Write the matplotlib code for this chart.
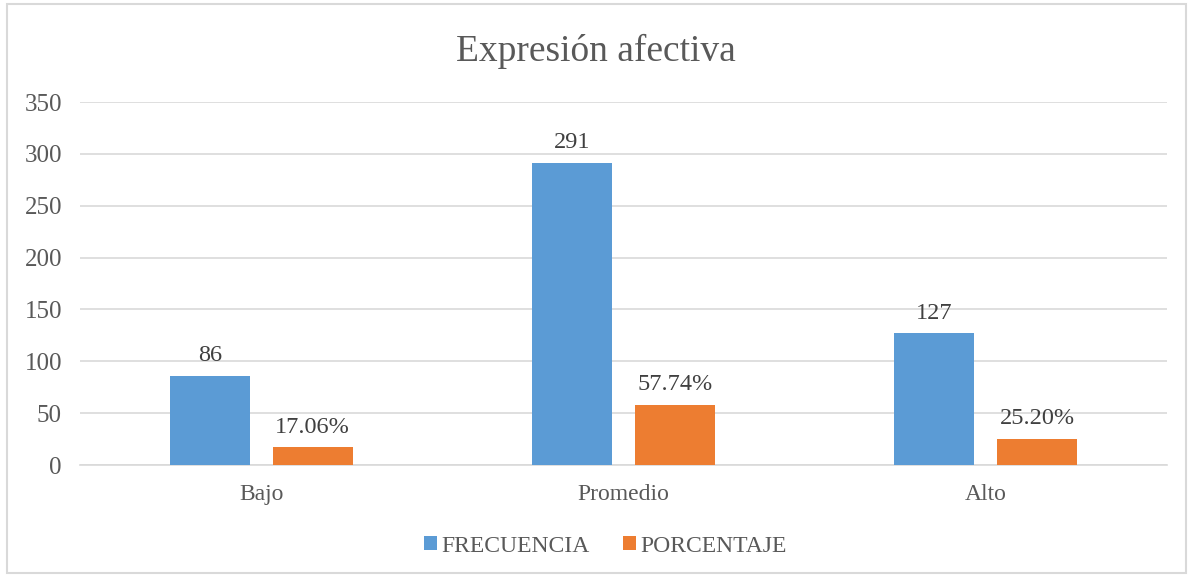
import numpy as np
import matplotlib
matplotlib.use("Agg")
import matplotlib.pyplot as plt
from matplotlib.patches import Rectangle

categories = ["Bajo", "Promedio", "Alto"]
frecuencia = [86, 291, 127]
porcentaje = [17.06, 57.74, 25.20]
pct_labels = ["17.06%", "57.74%", "25.20%"]

BLUE = "#5b9bd5"
ORANGE = "#ed7d31"
TXT = "#595959"
GRID = "#d9d9d9"

plt.rcParams["font.family"] = ["Liberation Serif", "DejaVu Serif"]

fig = plt.figure(figsize=(11.92, 5.76), dpi=100)
ax = fig.add_axes([0.0671, 0.1927, 0.9119, 0.6302])

x = np.arange(len(categories))
w = 0.221
off = 0.142
b1 = ax.bar(x - off, frecuencia, w, color=BLUE, label="FRECUENCIA", zorder=3)
b2 = ax.bar(x + off, porcentaje, w, color=ORANGE, label="PORCENTAJE", zorder=3)

for rect, v in zip(b1, frecuencia):
    ax.annotate(str(v), (rect.get_x() + rect.get_width() / 2, v), xytext=(0, 7),
                textcoords="offset points", ha="center", va="bottom", fontsize=17.5, color="#404040")
for rect, v, s in zip(b2, porcentaje, pct_labels):
    ax.annotate(s, (rect.get_x() + rect.get_width() / 2, v), xytext=(0, 7),
                textcoords="offset points", ha="center", va="bottom", fontsize=17.5, color="#404040")

ax.set_xlim(-0.5, 2.5)
ax.set_ylim(0, 350)
ax.set_yticks(range(0, 351, 50))
ax.set_xticks(x)
ax.set_xticklabels(categories, fontsize=17)
ax.tick_params(axis="both", length=0, colors=TXT)
ax.tick_params(axis="y", pad=13, labelsize=18)
ax.tick_params(axis="x", pad=14)
ax.grid(axis="y", color=GRID, lw=1.2, zorder=0)
for s in ["top", "right", "left"]:
    ax.spines[s].set_visible(False)
ax.spines["bottom"].set_color(GRID)
ax.spines["bottom"].set_linewidth(1.2)

fig.text(0.5, 0.91, "Expresión afectiva", ha="center", va="center", fontsize=27, color=TXT)

fig.legend(handles=[b1, b2], loc="center", bbox_to_anchor=(0.508, 0.052), ncol=2, frameon=False,
           fontsize=17, labelcolor=TXT, handlelength=0.55, handleheight=0.55, handletextpad=0.2,
           columnspacing=1.4)

fig.patches.append(Rectangle((0.006, 0.006), 0.989, 0.987, transform=fig.transFigure,
                             fill=False, edgecolor=GRID, lw=1.5))

fig.savefig("out.png", dpi=100)
